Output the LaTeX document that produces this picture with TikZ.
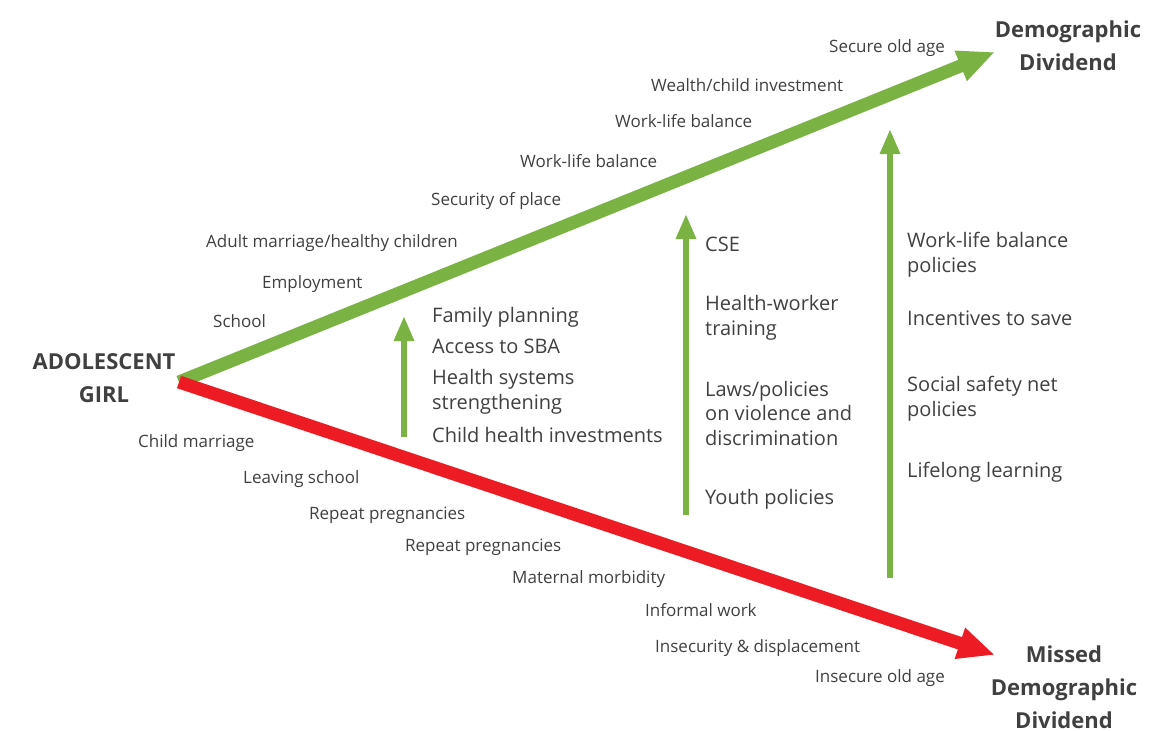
\documentclass[tikz,border=0pt]{standalone}
\usepackage{fontspec}
\setmainfont{Open Sans}
\usetikzlibrary{arrows.meta}
\definecolor{ddgreen}{HTML}{7AB244}
\definecolor{mddred}{HTML}{ED1C24}
\definecolor{txt}{HTML}{404040}

\begin{document}
\begin{tikzpicture}[x=1pt,y=-1pt,
  small/.style={anchor=base west,inner sep=0pt,text=txt,font=\fontsize{17}{21}\selectfont},
  mid/.style={anchor=base west,inner sep=0pt,text=txt,align=left,font=\fontsize{20}{24.5}\selectfont},
  head/.style={anchor=base,inner sep=0pt,text=txt,align=center,font=\fontsize{22}{33}\selectfont\bfseries},
  bigarrow/.style={line width=13pt,-{Triangle[length=37pt,width=30pt]}},
  policy/.style={ddgreen,line width=6pt,-{Triangle[length=25pt,width=19pt]}}]
\useasboundingbox (0,0) rectangle (1171,731);

% end labels (base = last line)
\draw (104,402) node[head](girl) {ADOLESCENT\\GIRL};
\draw (1068,70) node[head](dd) {Demographic\\Dividend};
\draw (1064,728) node[head](mdd) {Missed\\Demographic\\Dividend};

% the two paths
\coordinate (start) at (179,382);
\coordinate (ddtip) at (995,52);
\coordinate (mddtip) at (995,655);
\draw[bigarrow,ddgreen] (start) -- (ddtip);
\draw[bigarrow,mddred] (start) -- (mddtip);

% upper path
\draw (829,52) node[small](secure) {Secure old age};
\draw (651,91) node[small](wealth) {Wealth/child investment};
\draw (615,127) node[small](wlbtop) {Work-life balance};
\draw (520,167) node[small](wlblow) {Work-life balance};
\draw (431,205) node[small](security) {Security of place};
\draw (206,247) node[small](adult) {Adult marriage/healthy children};
\draw (262,288) node[small](employ) {Employment};
\draw (213,327) node[small](school) {School};

% lower path
\draw (138,447) node[small](childmar) {Child marriage};
\draw (243,483) node[small](leaving) {Leaving school};
\draw (309,519) node[small](repone) {Repeat pregnancies};
\draw (405,551) node[small](reptwo) {Repeat pregnancies};
\draw (512,583) node[small](maternal) {Maternal morbidity};
\draw (645,616) node[small](informal) {Informal work};
\draw (655,652) node[small](insecurity) {Insecurity \& displacement};
\draw (815,682) node[small](insecold) {Insecure old age};

% policy arrows
\coordinate (healthlow) at (404,437);
\coordinate (healthtip) at (404,316);
\coordinate (youthlow) at (686,515);
\coordinate (youthtip) at (686,214);
\coordinate (agelow) at (890,578);
\coordinate (agetip) at (890,129);
\draw[policy] (healthlow) -- (healthtip);
\draw[policy] (youthlow) -- (youthtip);
\draw[policy] (agelow) -- (agetip);

% health column
\draw (432,322) node[mid](family) {Family planning};
\draw (432,353) node[mid](sba) {Access to SBA};
\draw (432,409) node[mid](hss) {Health systems\\strengthening};
\draw (432,442) node[mid](childhealth) {Child health investments};

% youth column
\draw (705,251) node[mid](cse) {CSE};
\draw (705,335) node[mid](hwt) {Health-worker\\training};
\draw (705,445) node[mid](laws) {Laws/policies\\on violence and\\discrimination};
\draw (705,504) node[mid](youth) {Youth policies};

% old age column
\draw (907,272) node[mid](wlbpol) {Work-life balance\\policies};
\draw (907,325) node[mid](save) {Incentives to save};
\draw (907,416) node[mid](safety) {Social safety net\\policies};
\draw (907,477) node[mid](lifelong) {Lifelong learning};
\end{tikzpicture}
\end{document}
